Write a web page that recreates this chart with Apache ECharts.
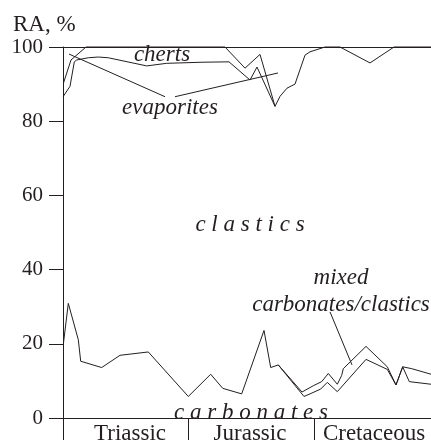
<!DOCTYPE html>
<html>
<head>
<meta charset="utf-8">
<script src="https://cdn.jsdelivr.net/npm/echarts@6/dist/echarts.min.js"></script>
<style>html,body{margin:0;padding:0;background:#fff}#c{width:431px;height:445px}</style>
</head>
<body>
<div id="c"></div>
<script>
// x: relative position along the time scale (0 = base of Triassic), y: RA, %
const periodNames = ['Triassic', 'Jurassic', 'Cretaceous'];
const periodBounds = [0, 125, 251];
const periodCenters = [67, 187, 311];
const yTicks = [0, 20, 40, 60, 80, 100];

const chertsUpper = [[0.5,90.3],[8,96.5],[23,100],[162,100],[182,94.3],[197,98.0],[212,84.0],[217,86.7],[224,88.9],[232,90.0],[242,97.8],[247,98.7],[262,100],[277,100],[307,95.7],[331,100],[368,100]];
const chertsLower = [[0.3,86.7],[7,89.4],[11.3,96.0],[13.7,96.5],[25.3,97.1],[35.3,97.3],[45.3,97.1],[83.7,94.9],[103.7,95.6],[140,95.9],[166,96.0],[187,91.1],[194,94.6],[212,84.0]];
const carbonatesCommon = [[0.3,19.8],[5.3,30.9],[15.3,21.1],[17.7,15.3],[38.7,13.6],[57,16.9],[85.3,17.8],[125.3,5.8],[147.7,11.8],[159.7,8.0],[178.7,6.5],[201,23.6],[207.7,13.6],[215.3,14.3]];
const mixedUpper = [[215.3,14.3],[239,7.0],[250.3,8.7],[258.7,9.8],[265.3,12.0],[274.3,9.1],[278.7,11.5],[280.3,13.3],[303,19.3],[324.3,13.8],[333,8.9],[339.7,13.8],[348.7,13.3],[368,11.8]];
const mixedLower = [[215.3,14.3],[241,5.8],[247,6.5],[257.7,7.8],[264.3,9.6],[274.3,7.1],[303,15.8],[324.3,13.1],[333,8.9],[339.7,13.8],[346.3,9.8],[368,9.1]];
const leaderEvap1 = [[6,98.1],[102,86.6]];
const leaderEvap2 = [[112,86.6],[215,93.0]];
const leaderMixed = [[267,28.6],[289,14.3]];

const INK = '#231f20';
const SERIF = '"Liberation Serif","DejaVu Serif",serif';

function line(data) {
  return { type: 'line', data: data, symbol: 'none', silent: true,
    lineStyle: { color: INK, width: 1 }, clip: false };
}

const chart = echarts.init(document.getElementById('c'), null, { renderer: 'canvas' });

function txt(x, y, s, size, italic, align) {
  return { type: 'text', x: x, y: y, silent: true,
    style: { text: s, fill: INK, fontFamily: SERIF, fontSize: size,
      fontStyle: italic ? 'italic' : 'normal',
      align: align || 'center', verticalAlign: 'middle' } };
}

chart.setOption({
  animation: false,
  backgroundColor: '#fff',
  grid: { left: 63, right: 0, top: 47, bottom: 22 },
  xAxis: [{
    type: 'value', min: 0, max: 368, position: 'bottom',
    axisLine: { show: true, lineStyle: { color: INK, width: 1 } },
    axisTick: { show: true, inside: false, length: 22, customValues: periodBounds, lineStyle: { color: INK, width: 1 } },
    axisLabel: { show: true, margin: 4, customValues: periodCenters,
      formatter: function (v) { const i = periodCenters.indexOf(v); return i >= 0 ? periodNames[i] : ''; },
      color: INK, fontFamily: SERIF, fontSize: 23 },
    splitLine: { show: false }
  }, {
    type: 'value', min: 0, max: 368, position: 'top',
    axisLine: { show: true, lineStyle: { color: INK, width: 1 } },
    axisTick: { show: false }, axisLabel: { show: false }, splitLine: { show: false }
  }],
  yAxis: {
    type: 'value', min: 0, max: 100, interval: 20,
    axisLine: { show: true, lineStyle: { color: INK, width: 1 } },
    axisTick: { show: true, inside: false, length: 14, lineStyle: { color: INK, width: 1 } },
    axisLabel: { margin: 20, color: INK, fontFamily: SERIF, fontSize: 21 },
    splitLine: { show: false }
  },
  series: [
    line(chertsUpper), line(chertsLower), line(carbonatesCommon),
    line(mixedUpper), line(mixedLower),
    line(leaderEvap1), line(leaderEvap2), line(leaderMixed)
  ],
  graphic: [
    txt(13, 25, 'RA, %', 23, false, 'left'),
    txt(162, 55, 'cherts', 23, true),
    txt(170, 108, 'evaporites', 23, true),
    txt(250, 225, 'c l a s t i c s', 23, true),
    txt(341, 278, 'mixed', 23, true),
    txt(341, 305, 'carbonates/clastics', 23, true),
    txt(251, 413, 'c a r b o n a t e s', 23, true)
  ]
});
</script>
</body>
</html>
